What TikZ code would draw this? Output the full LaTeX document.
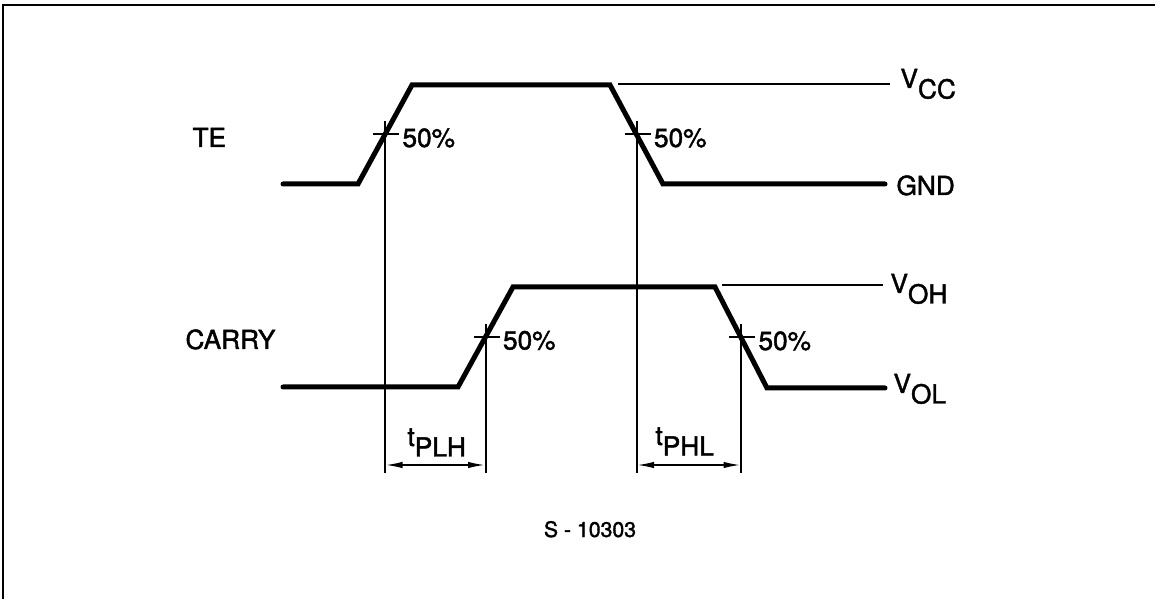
\documentclass[tikz,border=0pt]{standalone}
\usepackage{fontspec}
\setmainfont{TeX Gyre Heros}[BoldFont=TeX Gyre Heros,BoldFeatures={FakeBold=1.6}]
\usetikzlibrary{arrows.meta,calc}
\newcommand\lowsub[1]{\raisebox{-4.2pt}{#1}}
\tikzset{
  signal/.style={line width=2pt,line cap=round},
  level/.style={line width=0.7pt},
  guide/.style={line width=0.8pt},
  lbl/.style={anchor=base west,inner sep=0pt,font=\fontsize{10.5}{12}\selectfont\bfseries},
  dim/.style={line width=0.8pt,{Latex[length=7pt,width=2.6pt]}-{Latex[length=7pt,width=2.6pt]}}
}

\begin{document}
\begin{tikzpicture}[x=0.4pt,y=-0.4pt]
      \useasboundingbox (0,0) rectangle (1155,599);
      \draw [line width=0.8pt] (3,599) to (3,5) to (1155,5);

      \coordinate (te0) at (283,184);
      \coordinate (te1) at (358,184);
      \coordinate (te2) at (412,85);
      \coordinate (te3) at (610,85);
      \coordinate (te4) at (663,184);
      \coordinate (te5) at (885,184);

      \coordinate (ca0) at (283,387);
      \coordinate (ca1) at (458,387);
      \coordinate (ca2) at (513,287);
      \coordinate (ca3) at (715,287);
      \coordinate (ca4) at (767,388);
      \coordinate (ca5) at (885,388);

      \coordinate (teR) at ($(te1)!0.5!(te2)$);
      \coordinate (teF) at ($(te3)!0.5!(te4)$);
      \coordinate (caR) at ($(ca1)!0.5!(ca2)$);
      \coordinate (caF) at ($(ca3)!0.5!(ca4)$);
      \coordinate (arr) at (0,465);
      \coordinate (lo) at (0,473);

      \draw [signal] (te0) to (te1) to (te2) to (te3) to (te4) to (te5);
      \draw [signal] (ca0) to (ca1) to (ca2) to (ca3) to (ca4) to (ca5);

      \draw [level] (618,84) to (890,84);
      \draw [level] (722,285) to (883,285);

      \foreach \p in {teR,teF,caR,caF} {
        \draw [guide] ($(\p)+(-12,0)$) to ($(\p)+(14,0)$);
        \draw [guide] ($(\p)+(0,-13)$) to (\p |- lo);
        \node [lbl] at ($(\p)+(17,12.5)$) {50\%};
      }

      \draw [dim] (teR |- arr) to (caR |- arr);
      \draw [dim] (teF |- arr) to (caF |- arr);

      \node (te) [lbl] at (192,147) {TE};
      \node (carry) [lbl] at (185,349) {CARRY};
      \node (vcc) [lbl] at (900,88) {V\lowsub{CC}};
      \node (gnd) [lbl] at (896,195) {GND};
      \node (voh) [lbl] at (890,293) {V\lowsub{OH}};
      \node (vol) [lbl] at (893,393) {V\lowsub{OL}};
      \node (tplh) [lbl] at (407,446) {t\lowsub{PLH}};
      \node (tphl) [lbl] at (655,445) {t\lowsub{PHL}};
      \node (fig) [lbl,anchor=base,font=\fontsize{8.5}{10}\selectfont\bfseries] at (590,537) {S - 10303};

    \end{tikzpicture}
\end{document}
